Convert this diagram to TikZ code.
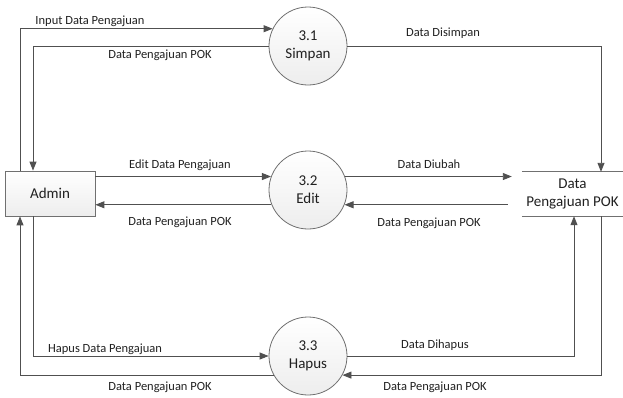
\documentclass[tikz,border=0pt]{standalone}
\usepackage{fontspec}
\setmainfont{Carlito}
\usetikzlibrary{arrows.meta,shadings}
\definecolor{linegray}{HTML}{505050}
\definecolor{edgegray}{HTML}{707070}
\definecolor{txt}{HTML}{202020}
\begin{document}
\begin{tikzpicture}[x=1pt,y=-1pt,
  flow/.style={draw=linegray,line width=0.9pt,-{Triangle[length=9pt,width=7pt]},color=linegray},
  proc/.style={circle,draw=edgegray,line width=0.8pt,minimum size=78pt,inner sep=0pt,
    top color=white,bottom color=gray!14,align=center,font=\fontsize{15}{18}\selectfont,text=txt},
  entity/.style={rectangle,draw=edgegray,line width=0.8pt,minimum width=90pt,minimum height=45pt,
    top color=white,bottom color=gray!14,font=\fontsize{15}{18}\selectfont,text=txt},
  storebox/.style={rectangle,minimum width=101pt,minimum height=44pt,inner sep=0pt,align=center,
    font=\fontsize{15}{18}\selectfont,text=txt},
  lbl/.style={font=\fontsize{12.5}{14}\selectfont,text=txt,inner sep=1pt}]
\useasboundingbox (0,0) rectangle (623,397);

% entities, processes and the data store
\node[entity] (admin) at (50,193.5) {Admin};
\node[proc] (c1) at (308,46) {3.1\\Simpan};
\node[proc] (c2) at (308,190) {3.2\\Edit};
\node[proc] (c3) at (308,356) {3.3\\Hapus};
\node[storebox] (store) at (572.5,194) {Data\\Pengajuan POK};
\draw[edgegray,line width=0.8pt] (store.north west) -- (store.north east)
  (store.south west) -- (store.south east);

% vertical lanes
\coordinate (lo) at (20,0);
\coordinate (li) at (33,0);
\coordinate (ri) at (574,0);
\coordinate (ro) at (601,0);

% 3.1 Simpan
\draw[flow] (admin.north -| lo) |- (c1.154);
\draw[flow] (c1.west) -| (li |- admin.north);
\draw[flow] (c1.east) -| (ro |- store.north);

% 3.2 Edit
\draw[flow] (c2.160 -| admin.east) -- (c2.160);
\draw[flow] (c2.202) -- (c2.202 -| admin.east);
\draw[flow,shorten >=10pt] (c2.20) -- (c2.20 -| store.west);
\draw[flow,shorten <=14pt] (c2.-22 -| store.west) -- (c2.-22);

% 3.3 Hapus
\draw[flow] (li |- admin.south) |- (c3.west);
\draw[flow] (c3.209) -| (lo |- admin.south);
\draw[flow] (c3.east) -| (ri |- store.south);
\draw[flow] (ro |- store.south) |- (c3.-29);

% flow labels
\node[lbl] (l1) at (90,21) {Input Data Pengajuan};
\node[lbl] (l2) at (160,55) {Data Pengajuan POK};
\node[lbl] (l3) at (443,33) {Data Disimpan};
\node[lbl] (l4) at (180,165) {Edit Data Pengajuan};
\node[lbl] (l5) at (180,222) {Data Pengajuan POK};
\node[lbl] (l6) at (429,164) {Data Diubah};
\node[lbl] (l7) at (429,223) {Data Pengajuan POK};
\node[lbl] (l8) at (105,349) {Hapus Data Pengajuan};
\node[lbl] (l9) at (160,387) {Data Pengajuan POK};
\node[lbl] (l10) at (435,345) {Data Dihapus};
\node[lbl] (l11) at (435,387) {Data Pengajuan POK};
\end{tikzpicture}
\end{document}
